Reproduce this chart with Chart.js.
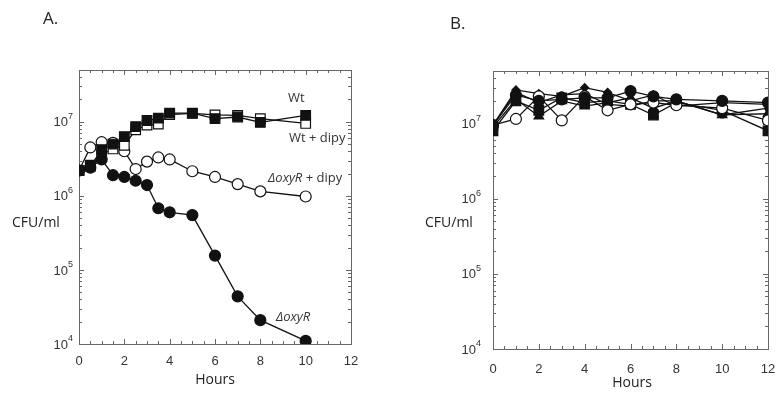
<!DOCTYPE html>
<html>
<head>
<meta charset="utf-8">
<script src="https://cdn.jsdelivr.net/npm/chart.js@4.4.0/dist/chart.umd.min.js"></script>
<style>
body{margin:0;width:776px;height:395px;overflow:hidden;background:#fff;position:relative;font-family:"Open Sans",sans-serif;color:#222}
.wrap{position:absolute;top:0;width:388px;height:395px}
.lbl{position:absolute;font-size:14px;line-height:1;white-space:nowrap}
</style>
</head>
<body>
<div class="wrap" style="left:0"><canvas id="chartA"></canvas></div>
<div class="wrap" style="left:388px"><canvas id="chartB"></canvas></div>
<div class="lbl" style="left:43px;top:9px;font-size:17px">A.</div>
<div class="lbl" style="left:450px;top:14px;font-size:17px">B.</div>
<div class="lbl" style="left:12px;top:215px">CFU/ml</div>
<div class="lbl" style="left:425px;top:215px">CFU/ml</div>
<div class="lbl" style="left:215px;top:372px;transform:translateX(-50%)">Hours</div>
<div class="lbl" style="left:632px;top:375px;transform:translateX(-50%)">Hours</div>
<script>
// panel A: growth after dipyridyl
const hoursA = [0, 0.5, 1, 1.5, 2, 2.5, 3, 3.5, 4, 5, 6, 7, 8, 10];
const wt = [2.2e6, 2.5e6, 4.2e6, 5.0e6, 6.3e6, 8.6e6, 1.04e7, 1.12e7, 1.31e7, 1.31e7, 1.1e7, 1.16e7, 9.8e6, 1.22e7];
const wtDipy = [2.2e6, 2.6e6, 3.6e6, 4.3e6, 4.8e6, 7.8e6, 9.0e6, 9.3e6, 1.25e7, 1.3e7, 1.24e7, 1.22e7, 1.1e7, 9.5e6];
const oxyRDipy = [2.2e6, 4.5e6, 5.3e6, 5.2e6, 4.0e6, 2.3e6, 2.9e6, 3.3e6, 3.1e6, 2.15e6, 1.8e6, 1.44e6, 1.15e6, 9.8e5];
const oxyR = [2.2e6, 2.4e6, 3.1e6, 1.9e6, 1.8e6, 1.6e6, 1.4e6, 6.8e5, 6.0e5, 5.5e5, 1.56e5, 4.4e4, 2.1e4, 1.1e4];

// panel B: six strains, all flat
const hoursB = [0, 1, 2, 3, 4, 5, 6, 7, 8, 10, 12];
const b1 = [9.5e6, 2.4e7, 2.0e7, 2.1e7, 2.2e7, 2.2e7, 2.7e7, 2.3e7, 2.1e7, 2.0e7, 1.9e7];
const b2 = [9.5e6, 1.15e7, 2.3e7, 1.1e7, 2.3e7, 1.5e7, 1.8e7, 1.9e7, 1.75e7, 1.6e7, 1.1e7];
const b3 = [8.0e6, 2.0e7, 1.5e7, 2.2e7, 1.9e7, 2.0e7, 1.8e7, 1.3e7, 1.9e7, 1.5e7, 8.0e6];
const b4 = [9.0e6, 2.1e7, 1.25e7, 2.0e7, 1.7e7, 1.9e7, 2.2e7, 1.6e7, 2.0e7, 1.3e7, 1.35e7];
const b5 = [9.5e6, 2.8e7, 2.5e7, 2.3e7, 3.0e7, 2.6e7, 2.0e7, 2.4e7, 1.7e7, 1.9e7, 1.8e7];
const b6 = [9.5e6, 2.6e7, 1.9e7, 2.4e7, 2.5e7, 1.8e7, 1.7e7, 2.0e7, 2.0e7, 1.3e7, 1.6e7];

const yTicks = [1e4, 1e5, 1e6, 1e7];

const pts = (xs, ys) => xs.map((h, i) => ({x: h, y: ys[i]}));

const series = (data, style, radius, fill) => ({
    data: data,
    borderColor: '#111',
    borderWidth: 1.3,
    pointStyle: style,
    pointRadius: radius,
    pointBorderWidth: 1.2,
    pointBorderColor: '#111',
    pointBackgroundColor: fill,
    tension: 0,
    fill: false
});

// frame, inward ticks and 10^n labels like the original plot
const frameTicks = {
    id: 'frameTicks',
    beforeDatasetsDraw(chart, args, opts) {
        const {ctx, chartArea: a, scales: {x, y}} = chart;
        ctx.save();
        ctx.strokeStyle = '#666';
        ctx.lineWidth = 1;
        ctx.strokeRect(a.left + 0.5, a.top + 0.5, a.right - a.left, a.bottom - a.top);
        ctx.beginPath();
        for (let h = 0; h <= 12; h += 0.5) {
            const px = Math.round(x.getPixelForValue(h)) + 0.5;
            const len = h % 2 === 0 ? 5 : 3;
            ctx.moveTo(px, a.bottom); ctx.lineTo(px, a.bottom - len);
            ctx.moveTo(px, a.top); ctx.lineTo(px, a.top + len);
        }
        for (let d = 4; d <= 7; d++) {
            for (let k = 1; k <= 9; k++) {
                const v = k * Math.pow(10, d);
                if (v > y.max) break;
                const py = Math.round(y.getPixelForValue(v)) + 0.5;
                const len = k === 1 ? 5 : 3;
                ctx.moveTo(a.left, py); ctx.lineTo(a.left + len, py);
                ctx.moveTo(a.right, py); ctx.lineTo(a.right - len, py);
            }
        }
        ctx.stroke();

        // y labels: "10" with a raised exponent
        ctx.fillStyle = '#333';
        ctx.textBaseline = 'middle';
        ctx.textAlign = 'right';
        yTicks.forEach(v => {
            const py = y.getPixelForValue(v);
            const ex = String(Math.round(Math.log10(v)));
            const right = a.left - opts.gap;
            ctx.font = '9px "Liberation Sans", Arial, sans-serif';
            const ew = ctx.measureText(ex).width;
            ctx.fillText(ex, right, py - 5);
            ctx.font = '13px "Liberation Sans", Arial, sans-serif';
            ctx.fillText('10', right - ew, py + 1);
        });
        ctx.restore();
    }
};

const notesA = [
    {parts: [['Wt', '']], h: 9.22, v: 2.05e7},
    {parts: [['Wt + dipy', '']], h: 9.26, v: 5.9e6},
    {parts: [['\u0394oxyR', 'italic '], [' + dipy', '']], h: 8.34, v: 1.7e6},
    {parts: [['\u0394oxyR', 'italic ']], h: 8.69, v: 2.3e4}
];

const notes = {
    id: 'notes',
    afterDatasetsDraw(chart) {
        const {ctx, scales: {x, y}} = chart;
        ctx.save();
        ctx.fillStyle = '#333';
        ctx.textBaseline = 'middle';
        notesA.forEach(n => {
            let px = x.getPixelForValue(n.h);
            const py = y.getPixelForValue(n.v);
            n.parts.forEach(([txt, st]) => {
                ctx.font = st + '13px "Open Sans", sans-serif';
                ctx.fillText(txt, px, py);
                px += ctx.measureText(txt).width;
            });
        });
        ctx.restore();
    }
};

const makeOptions = (yWidth, xHeight, pad, yGap, xPad) => ({
    responsive: true,
    maintainAspectRatio: false,
    animation: false,
    layout: {padding: pad},
    plugins: {legend: {display: false}, tooltip: {enabled: false}, frameTicks: {gap: yGap}},
    scales: {
        x: {
            type: 'linear', min: 0, max: 12,
            grid: {display: false}, border: {display: false},
            ticks: {stepSize: 2, padding: xPad, color: '#333', font: {family: '"Liberation Sans", Arial, sans-serif', size: 13}},
            afterFit(scale) { scale.height = xHeight; scale.paddingLeft = 0; scale.paddingRight = 0; }
        },
        y: {
            type: 'logarithmic', min: 1e4, max: 5e7,
            grid: {display: false}, border: {display: false},
            ticks: {display: false},
            afterBuildTicks(scale) { scale.ticks = yTicks.map(v => ({value: v, major: true})); },
            afterFit(scale) { scale.width = yWidth; scale.paddingTop = 0; scale.paddingBottom = 0; }
        }
    }
});

// first dataset ends up on top
new Chart(document.getElementById('chartA'), {
    type: 'line',
    data: {
        datasets: [
            series(pts(hoursA, oxyR), 'circle', 5.5, '#111'),
            series(pts(hoursA, wt), 'rect', 6.8, '#111'),
            series(pts(hoursA, wtDipy), 'rect', 6.8, '#fff'),
            series(pts(hoursA, oxyRDipy), 'circle', 5.5, '#fff')
        ]
    },
    options: makeOptions(79, 51, {left: 0, right: 37, top: 70, bottom: 0}, 6, 2),
    plugins: [frameTicks, notes]
});

new Chart(document.getElementById('chartB'), {
    type: 'line',
    data: {
        datasets: [
            series(pts(hoursB, b1), 'circle', 5.5, '#111'),
            series(pts(hoursB, b2), 'circle', 5.5, '#fff'),
            series(pts(hoursB, b5), 'rectRot', 4, '#111'),
            series(pts(hoursB, b6), 'circle', 3, '#111'),
            series(pts(hoursB, b4), 'triangle', 5.5, '#111'),
            series(pts(hoursB, b3), 'rect', 6.8, '#111')
        ]
    },
    options: makeOptions(105, 46, {left: 0, right: 5, top: 71, bottom: 0}, 12, 5),
    plugins: [frameTicks]
});
</script>
</body>
</html>
